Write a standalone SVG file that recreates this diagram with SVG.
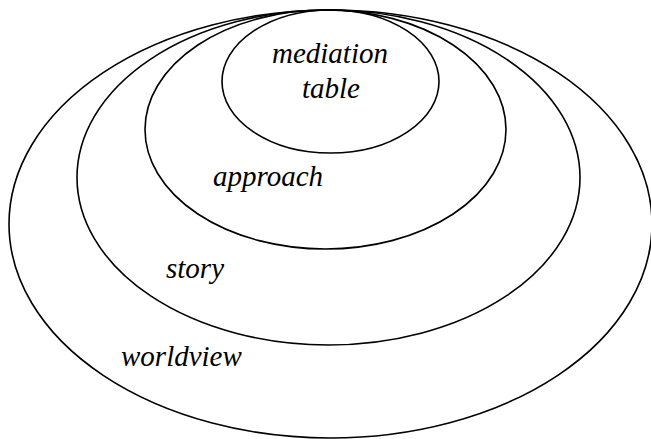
<svg xmlns="http://www.w3.org/2000/svg" width="651" height="439" viewBox="0 0 651 439">
<style>
.ring{fill:none;stroke:#000;stroke-width:1.6}
.lbl{font-family:"Liberation Serif","Times New Roman",serif;font-style:italic;font-size:29px;fill:#000}
</style>
<rect width="651" height="439" fill="#fff"/>
<g id="worldview">
<ellipse class="ring" cx="330.5" cy="224" rx="321.5" ry="214"/>
<text class="lbl" x="121" y="366">worldview</text>
</g>
<g id="story">
<ellipse class="ring" cx="328.5" cy="177.5" rx="251.5" ry="167.5"/>
<text class="lbl" x="166" y="278">story</text>
</g>
<g id="approach">
<ellipse class="ring" cx="325.5" cy="129.5" rx="180.5" ry="119.5"/>
<text class="lbl" x="213" y="186">approach</text>
</g>
<g id="mediation-table">
<ellipse class="ring" cx="330.5" cy="81.5" rx="108.5" ry="71.5"/>
<text class="lbl" x="272" y="63">mediation</text>
<text class="lbl" x="302" y="98">table</text>
</g>
<g id="connectors"></g>
</svg>
